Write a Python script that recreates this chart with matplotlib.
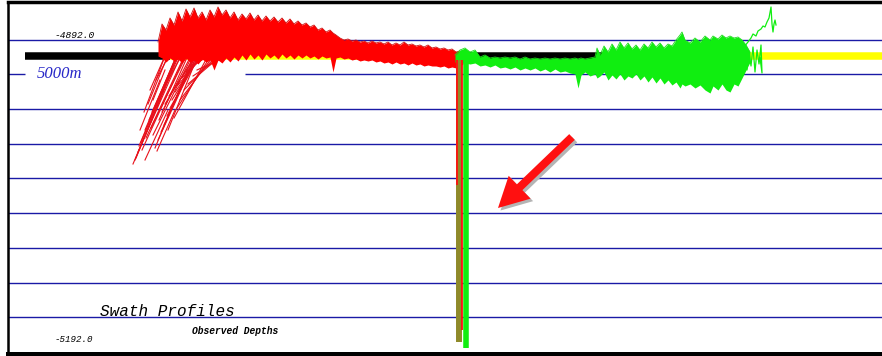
import numpy as np
import matplotlib
matplotlib.use("Agg")
from matplotlib import pyplot as plt
from matplotlib import transforms

# Depth range shown in the panel (m).
DEPTH_TOP = -4892.0
DEPTH_BOTTOM = -5192.0
SCALE_LABEL = "5000m"

# Port side profile (red), along-track position vs depth envelope.
red_x = [158, 162, 166, 170, 174, 178, 182, 186, 190, 194, 198, 202, 206, 210, 214, 218, 222, 226,
         230, 234, 238, 242, 246, 250, 254, 258, 262, 266, 270, 274, 278, 282, 286, 290, 294, 298,
         302, 306, 310, 314, 318, 322, 326, 330, 333, 336, 340, 344, 348, 352, 356, 360, 364, 368,
         372, 376, 380, 384, 388, 392, 396, 400, 404, 408, 412, 416, 420, 424, 428, 432, 436, 440,
         444, 448, 452, 456, 460, 463]
red_top = [-4895, -4877, -4883, -4871, -4878, -4865, -4874, -4862, -4870, -4861, -4871, -4865,
           -4873, -4863, -4870, -4860, -4868, -4863, -4871, -4865, -4873, -4867, -4872, -4866,
           -4873, -4868, -4874, -4869, -4874, -4870, -4875, -4871, -4876, -4872, -4877, -4874,
           -4878, -4876, -4880, -4878, -4883, -4881, -4885, -4883, -4886, -4888, -4891, -4893,
           -4892, -4894, -4893, -4895, -4894, -4896, -4894, -4896, -4895, -4897, -4895, -4898,
           -4896, -4898, -4895, -4898, -4897, -4899, -4898, -4900, -4898, -4901, -4900, -4902,
           -4901, -4903, -4902, -4905, -4904, -4908]
red_bottom = [-4909, -4911, -4915, -4911, -4914, -4912, -4916, -4911, -4915, -4913, -4917, -4912,
              -4915, -4913, -4923, -4913, -4916, -4911, -4915, -4910, -4914, -4908, -4913, -4907,
              -4912, -4908, -4913, -4907, -4911, -4908, -4912, -4907, -4911, -4908, -4912, -4908,
              -4911, -4908, -4911, -4909, -4912, -4909, -4911, -4910, -4925, -4911, -4910, -4912,
              -4911, -4913, -4912, -4914, -4913, -4914, -4913, -4915, -4914, -4916, -4915, -4917,
              -4915, -4917, -4916, -4918, -4916, -4918, -4917, -4919, -4918, -4919, -4919, -4920,
              -4919, -4921, -4920, -4921, -4919, -4917]

# Outer beam streaks on the port side (start/end of each ping trace).
streak_x0 = [133, 138, 141, 145, 149, 152, 155, 158, 161, 164, 167, 170, 172, 175, 178, 182, 186,
             190, 148, 144, 150, 156, 160, 168, 145, 136, 157,
             135, 139, 142, 146, 151, 153, 159, 162, 165, 169, 174, 177, 180, 184, 188, 193, 197,
             140, 153]
streak_d0 = [-5017, -5005, -4995, -4983, -4973, -4965, -5001, -4993, -4985, -4978, -4969, -4961,
             -4953, -4945, -4938, -4931, -4925, -4919, -4957, -4965, -4943, -4933, -4948, -4983,
             -5013, -5011, -5004,
             -5013, -4999, -5003, -4991, -4981, -4988, -4973, -4965, -4957, -4949, -4971, -4961,
             -4953, -4943, -4937, -4929, -4923, -4983, -4953]
streak_x1 = [182, 183, 182, 180, 178, 184, 200, 203, 198, 200, 205, 210, 206, 212, 208, 215, 220,
             218, 170, 168, 172, 176, 190, 196, 168, 160, 175,
             178, 176, 190, 188, 192, 195, 194, 199, 203, 207, 214, 216, 224, 226, 230, 232, 236,
             160, 165]
streak_d1 = [-4901, -4903, -4898, -4901, -4905, -4893, -4893, -4895, -4903, -4898, -4893, -4891,
             -4898, -4893, -4903, -4895, -4898, -4905, -4903, -4901, -4893, -4895, -4893, -4913,
             -4963, -4953, -4963,
             -4908, -4911, -4898, -4901, -4897, -4903, -4895, -4893, -4896, -4893, -4898, -4901,
             -4895, -4899, -4901, -4903, -4905, -4933, -4923]

# Starboard side profile (green).
green_x = [455, 460, 465, 470, 475, 480, 485, 490, 495, 500, 505, 510, 515, 520, 525, 530, 535,
           540, 545, 550, 555, 560, 565, 570, 575, 578, 581, 585, 590, 595, 597, 600, 604, 608,
           612, 616, 620, 624, 628, 632, 636, 640, 644, 648, 652, 656, 660, 664, 668, 672, 676,
           680, 682, 685, 690, 695, 700, 705, 710, 713, 718, 722, 726, 730, 734, 738, 742, 746, 750]
green_top = [-4908, -4903, -4901, -4905, -4903, -4910, -4908, -4911, -4910, -4911, -4910, -4911,
             -4910, -4912, -4910, -4912, -4911, -4912, -4911, -4912, -4911, -4912, -4911, -4912,
             -4911, -4912, -4911, -4912, -4911, -4910, -4901, -4908, -4899, -4905, -4897, -4903,
             -4895, -4901, -4896, -4902, -4898, -4903, -4897, -4901, -4895, -4900, -4896, -4901,
             -4897, -4899, -4893, -4888, -4885, -4893, -4896, -4891, -4895, -4889, -4893, -4889,
             -4892, -4888, -4891, -4889, -4891, -4890, -4893, -4898, -4905]
green_bottom = [-4915, -4916, -4916, -4917, -4916, -4919, -4918, -4920, -4918, -4921, -4920, -4922,
                -4920, -4923, -4921, -4923, -4921, -4924, -4922, -4925, -4922, -4925, -4924, -4926,
                -4927, -4941, -4928, -4925, -4929, -4927, -4931, -4929, -4925, -4933, -4928, -4932,
                -4927, -4933, -4929, -4931, -4927, -4933, -4929, -4935, -4930, -4936, -4931, -4937,
                -4933, -4938, -4935, -4941, -4937, -4939, -4937, -4941, -4938, -4943, -4946, -4939,
                -4943, -4937, -4943, -4945, -4937, -4939, -4931, -4923, -4915]

# Sparse starboard returns at the end of the swath.
green_tail_x = [742, 745, 747, 749, 751, 753, 755, 757, 759, 761, 762, 760]
green_tail_d = [-4913, -4901, -4923, -4905, -4919, -4900, -4925, -4903, -4917, -4898, -4926, -4911]
green_trail_x = [744, 748, 751, 753, 756, 758, 761, 763, 765, 767, 769, 771, 772, 773, 774, 775, 776]
green_trail_d = [-4900, -4895, -4891, -4887, -4889, -4884, -4882, -4879, -4880, -4875, -4871,
                 -4860, -4877, -4885, -4877, -4873, -4878]

# Erroneous nadir spike.
spike_x = [459, 465.5]
spike_bottom = [-5195, -5201]
spike_red_x = [456.5, 461.5]
spike_red_bottom = [-5038, -5183]
spike_top = -4913

# Ship track bar under the profiles.
track_depth = -4909
track_breaks = [25, 170, 455, 605, 882]
track_colors = ["black", "#ffff00", "black", "#ffff00"]

# Arrow pointing at the spike.
arrow_tail = (572, -4990)
arrow_tip = (498, -5061)

W, H = 882, 356
fig = plt.figure(figsize=(W / 100, H / 100), dpi=100)
ax = fig.add_axes([7.5 / W, (H - 353.5) / H, (W - 7.5) / W, (353.5 - 2) / H])
ax.set_xlim(7.5, 882)
ax.set_ylim(-5206.5, -4855)
ax.set_xticks([])
ax.set_yticks([])
ax.spines["right"].set_visible(False)
ax.spines["left"].set_linewidth(1.8)
ax.spines["top"].set_linewidth(2.5)
ax.spines["bottom"].set_linewidth(3.6)

# Horizontal depth grid
grid_color = "#1a1aa6"
grid_depths = DEPTH_TOP - 0.5 - 34.72 * np.arange(9)
for k, gd in enumerate(grid_depths):
    if k == 1:
        ax.hlines(gd, 7.5, 25, color=grid_color, lw=1.0, zorder=1)
        ax.hlines(gd, 245, 882, color=grid_color, lw=1.0, zorder=1)
    else:
        ax.hlines(gd, 7.5, 882, color=grid_color, lw=1.0, zorder=1)

# Track bar
for x0, x1, c in zip(track_breaks[:-1], track_breaks[1:], track_colors):
    ax.plot([x0, x1], [track_depth, track_depth], color=c, lw=5.4,
            solid_capstyle="butt", zorder=2)

# Port side
for x0, d0, x1, d1 in zip(streak_x0, streak_d0, streak_x1, streak_d1):
    ax.plot([x0, x1], [d0, d1], color="#e8101a", lw=0.8, zorder=3)
ax.fill_between(red_x, red_bottom, red_top, color="#ff0000", lw=0, zorder=3)
ax.plot(red_x, red_top, color="#d01010", lw=0.6, zorder=3)

# Starboard side
ax.fill_between(green_x, green_bottom, green_top, color="#10ee10", lw=0, zorder=4)
ax.plot(green_x, green_top, color="#20dd20", lw=0.6, zorder=4)
ax.plot(green_tail_x, green_tail_d, color="#10ee10", lw=0.9, zorder=4)
ax.plot(green_trail_x, green_trail_d, color="#10ee10", lw=0.9, zorder=4)

# Nadir spike
ax.vlines(spike_x[0], spike_bottom[0], spike_top, color="#8f8a2a", lw=4.3, zorder=5)
ax.vlines(spike_x[1], spike_bottom[1], spike_top, color="#10ee10", lw=4.0, zorder=5)
ax.vlines(spike_red_x, spike_red_bottom, spike_top, color="#ff1010", lw=1.3, zorder=5)

# Arrow with drop shadow
arrow_style = "simple,head_width=0.95,head_length=0.9,tail_width=0.24"
shadow = transforms.offset_copy(ax.transData, fig=fig, x=2.5, y=-2.5, units="dots")
ax.annotate("", xy=arrow_tip, xytext=arrow_tail, xycoords=shadow, textcoords=shadow,
            arrowprops=dict(arrowstyle=arrow_style, color="#b4b4b4", mutation_scale=24,
                            shrinkA=0, shrinkB=0, lw=0), zorder=6)
ax.annotate("", xy=arrow_tip, xytext=arrow_tail,
            arrowprops=dict(arrowstyle=arrow_style, color="#ff1010", mutation_scale=24,
                            shrinkA=0, shrinkB=0, lw=0), zorder=7)

# Labels
mono = "Liberation Mono"
fig.text(55 / W, 1 - 35.5 / H, f"{DEPTH_TOP:.1f}", family=mono, style="italic",
         fontsize=6.8, va="center", ha="left")
fig.text(55 / W, 1 - 340 / H, f"{DEPTH_BOTTOM:.1f}", family=mono, style="italic",
         fontsize=6.6, va="center", ha="left")
fig.text(37 / W, 1 - 73.5 / H, SCALE_LABEL, family="Liberation Serif", style="italic",
         fontsize=12, color="#2828c8", va="center", ha="left")
fig.text(100 / W, 1 - 312 / H, "Swath Profiles", family=mono, style="italic",
         fontsize=11.5, va="center", ha="left")
fig.text(192 / W, 1 - 331.5 / H, "Observed Depths", family=mono, style="italic",
         weight="bold", fontsize=6.9, va="center", ha="left")

fig.savefig("out.png", dpi=100, facecolor="white")
